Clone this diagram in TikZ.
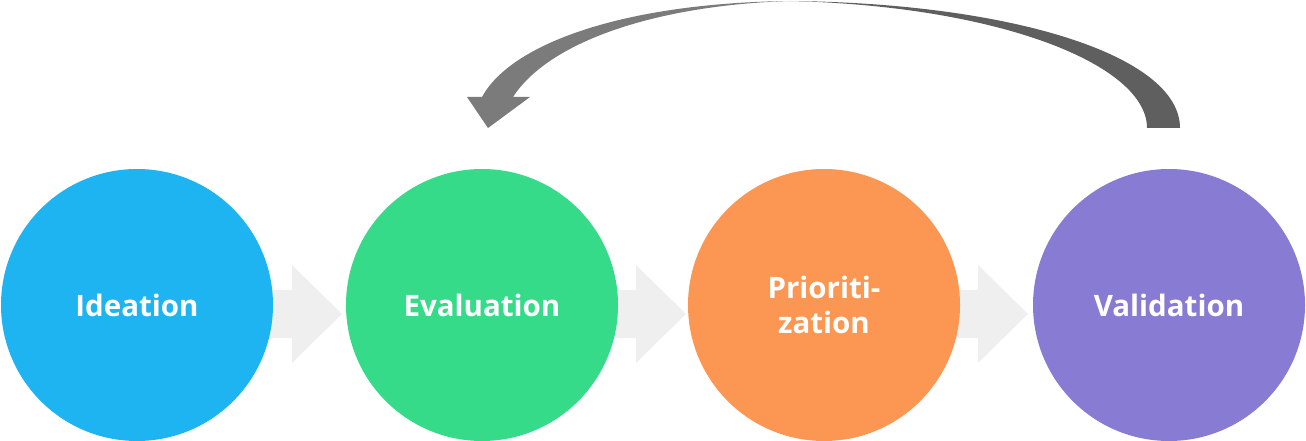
\documentclass[tikz,border=0pt]{standalone}
\usepackage{fontspec}
\setmainfont{Open Sans}
\definecolor{cIdea}{HTML}{1DB4F1}
\definecolor{cEval}{HTML}{36DB89}
\definecolor{cPrio}{HTML}{FB9752}
\definecolor{cVali}{HTML}{877BD3}
\definecolor{blockgray}{HTML}{EFEFEF}
\definecolor{loopdark}{HTML}{5F5F5F}
\definecolor{looplight}{HTML}{7B7B7B}
\tikzset{
  stage/.style={circle, minimum size=272pt, inner sep=0pt, text=white,
    font=\fontsize{29.5}{35}\selectfont\bfseries, align=center},
  block/.style={fill=blockgray}
}
\begin{document}
\begin{tikzpicture}[x=1pt,y=-1pt]
\useasboundingbox (0,0) rectangle (1306,441);
% block arrows between stages
\foreach \s in {292,636,978}{
  \fill[block] (\s-45,290) -- (\s,290) -- (\s,265) -- (\s+50,314) -- (\s,363) -- (\s,338) -- (\s-45,338) -- cycle;
}
\node[stage, fill=cIdea] (idea) at (137,305) {Ideation};
\node[stage, fill=cEval] (eval) at (482,305) {Evaluation};
\node[stage, fill=cPrio] (prio) at (824,305) {Prioriti-\\zation};
\node[stage, fill=cVali] (vali) at (1169,305) {Validation};
% loop-back arrow
\coordinate (top) at (790,1);
\fill[loopdark] (top) .. controls (1010,3) and (1180,55) .. (1180,128) -- (1147,128) .. controls (1147,65) and (1000,6) .. (top) -- cycle;
\fill[looplight] (top) .. controls (620,3) and (510,45) .. (482,97) -- (467,97) -- (488,128) -- (530,97) -- (513,97) .. controls (550,40) and (660,5) .. (top) -- cycle;
\end{tikzpicture}
\end{document}
